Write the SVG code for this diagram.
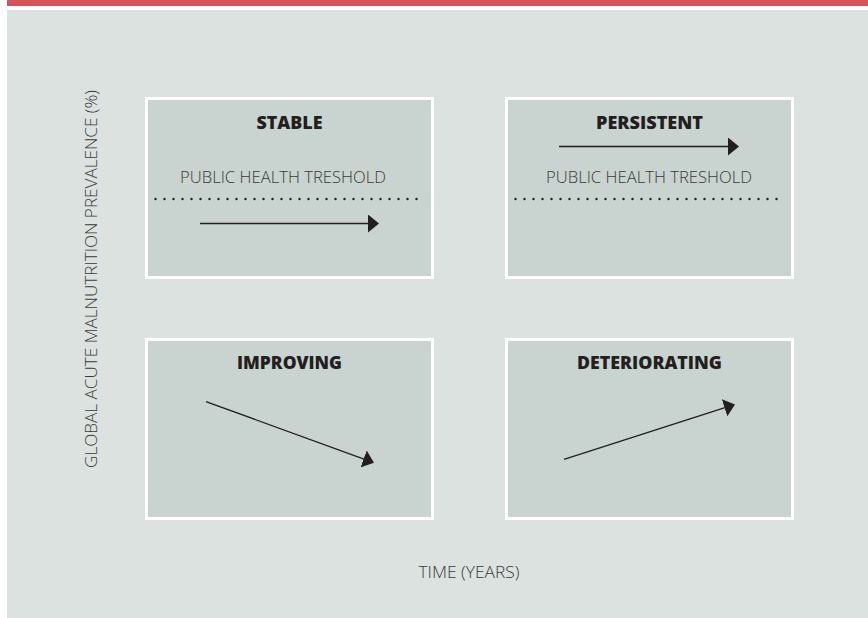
<svg xmlns="http://www.w3.org/2000/svg" width="868" height="618" viewBox="0 0 868 618">
  <defs>
    <style>
      .box { fill: #c9d3cf; stroke: #ffffff; stroke-width: 3; }
      .title { font-family: "Open Sans", "Liberation Sans", Arial, sans-serif; font-weight: 800; font-size: 17px; fill: #231f20; text-anchor: middle; }
      .thin { font-family: "Open Sans", "Liberation Sans", sans-serif; font-weight: 300; font-size: 17px; fill: #3a3a3a; text-anchor: middle; }
      .dots { stroke: #231f20; stroke-width: 2.4; stroke-linecap: round; stroke-dasharray: 0 9; fill: none; }
      .arrow { stroke: #231f20; stroke-width: 1.4; fill: none; marker-end: url(#head); }
    </style>
    <marker id="head" viewBox="0 0 11 18" refX="7" refY="9" markerWidth="11" markerHeight="18" markerUnits="userSpaceOnUse" orient="auto">
      <path d="M0,0 L11,9 L0,18 Z" fill="#231f20"/>
    </marker>
  </defs>

  <rect x="0" y="0" width="868" height="618" fill="#ffffff"/>
  <rect x="7" y="0" width="861" height="6" fill="#d3555b"/>
  <rect x="7" y="10" width="861" height="608" fill="#dce2e0"/>

  <text class="thin" transform="translate(97,279) rotate(-90)" textLength="378" lengthAdjust="spacingAndGlyphs">GLOBAL ACUTE MALNUTRITION PREVALENCE (%)</text>
  <text class="thin" x="469" y="578" textLength="101" lengthAdjust="spacingAndGlyphs">TIME (YEARS)</text>

  <g id="stable">
    <rect class="box" x="146.5" y="98.5" width="286" height="179"/>
    <text class="title" x="289.5" y="129" textLength="66" lengthAdjust="spacingAndGlyphs">STABLE</text>
    <text class="thin" x="283" y="183" textLength="206" lengthAdjust="spacingAndGlyphs">PUBLIC HEALTH TRESHOLD</text>
    <line class="dots" x1="155.5" y1="199" x2="425.5" y2="199"/>
  </g>

  <g id="persistent">
    <rect class="box" x="506.5" y="98.5" width="286" height="179"/>
    <text class="title" x="649.5" y="129" textLength="107" lengthAdjust="spacingAndGlyphs">PERSISTENT</text>
    <text class="thin" x="649" y="183" textLength="206" lengthAdjust="spacingAndGlyphs">PUBLIC HEALTH TRESHOLD</text>
    <line class="dots" x1="515.5" y1="199" x2="785.5" y2="199"/>
  </g>

  <g id="improving">
    <rect class="box" x="146.5" y="339.5" width="286" height="179"/>
    <text class="title" x="289.5" y="369" textLength="105" lengthAdjust="spacingAndGlyphs">IMPROVING</text>
  </g>

  <g id="deteriorating">
    <rect class="box" x="506.5" y="339.5" width="286" height="179"/>
    <text class="title" x="649.5" y="369" textLength="145" lengthAdjust="spacingAndGlyphs">DETERIORATING</text>
  </g>

  <g id="connectors">
    <line class="arrow" x1="200" y1="223.5" x2="375" y2="223.5"/>
    <line class="arrow" x1="559" y1="146.5" x2="735" y2="146.5"/>
    <line class="arrow" x1="206" y1="401.7" x2="370.2" y2="461.3"/>
    <line class="arrow" x1="564" y1="459.3" x2="731.2" y2="405.6"/>
  </g>
</svg>
